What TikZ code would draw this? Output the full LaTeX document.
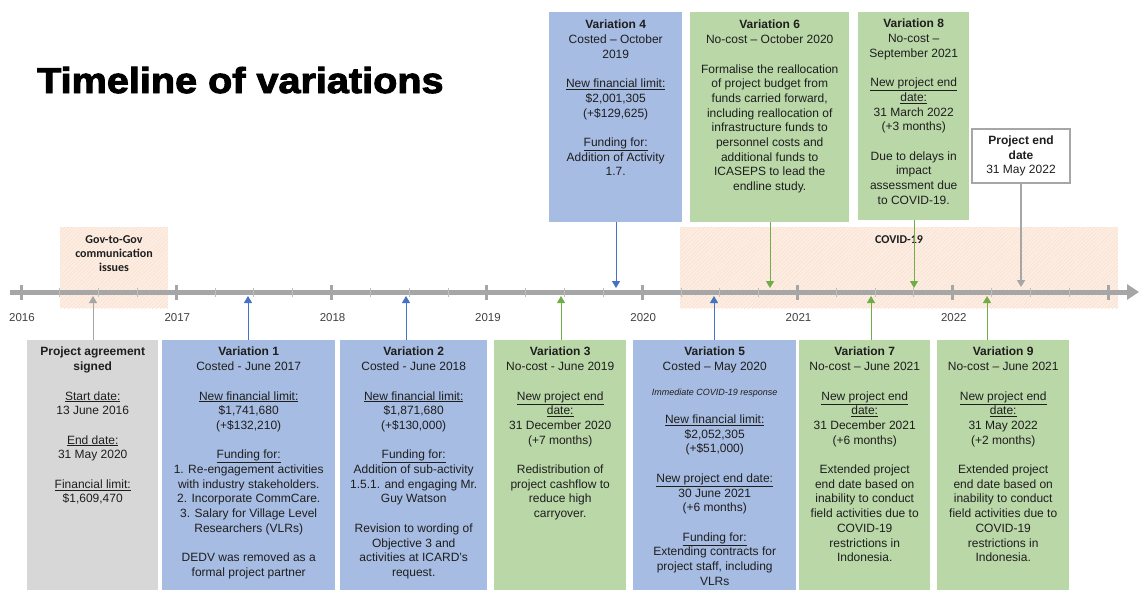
\documentclass[tikz,border=0pt]{standalone}
\usepackage{fontspec}
\setmainfont{Liberation Sans}
\newfontfamily\calfont{Carlito}
\newfontfamily\titlefont[BoldFeatures={FakeBold=2.5}]{Liberation Sans}
\usetikzlibrary{arrows.meta,patterns.meta}
\definecolor{bluef}{RGB}{167,188,226}
\definecolor{greenf}{RGB}{186,215,168}
\definecolor{grayf}{RGB}{215,215,215}
\definecolor{arrblue}{RGB}{68,114,196}
\definecolor{arrgreen}{RGB}{112,173,71}
\definecolor{axisc}{RGB}{166,166,166}
\definecolor{minorc}{RGB}{190,190,190}
\definecolor{txtc}{RGB}{30,30,30}
\definecolor{yearc}{RGB}{64,64,64}
\definecolor{peach}{RGB}{253,238,228}
\definecolor{hatchc}{RGB}{250,222,205}
\tikzset{
  panel/.style={draw=none, inner sep=0pt, anchor=north west},
  boxtxt/.style={align=center, inner sep=0pt, text=txtc, anchor=north,
    font=\fontsize{12}{14.7}\selectfont},
  yearlbl/.style={inner sep=0pt, text=yearc, font=\fontsize{11.5}{13}\selectfont},
  shadelbl/.style={align=center, inner sep=0pt, text=txtc,
    font=\calfont\bfseries\fontsize{12}{14}\selectfont},
  evarrow/.style={line width=1pt, -{Triangle[length=7pt,width=8pt]}},
  tickmaj/.style={line width=3pt, draw=axisc},
  tickmin/.style={line width=1pt, draw=minorc},
  hatchfill/.style={pattern={Lines[angle=45,distance=2.6pt,line width=0.5pt]}, pattern color=hatchc},
}
\begin{document}
\begin{tikzpicture}[x=1pt,y=-1pt]
\useasboundingbox (0,0) rectangle (1139,590);

% title
\node[anchor=base west, inner sep=0pt, text=black,
  font=\titlefont\bfseries\fontsize{36}{40}\selectfont] (title) at (37,93)
  {\scalebox{1.1}[1]{Timeline of variations}};

% shaded periods
\fill[peach] (60,227) rectangle (168,308);
\fill[hatchfill] (60,227) rectangle (168,308);
\fill[peach] (680,227) rectangle (1118,308);
\fill[hatchfill] (680,227) rectangle (1118,308);
\node[shadelbl] (gov) at (114,254) {Gov-to-Gov\\communication\\issues};
\node[shadelbl] (covid) at (899,240) {COVID-19};

% axis
\coordinate (axs) at (10,292);
\coordinate (axe) at (1139,292);
\draw[line width=5pt, draw=axisc, -{Triangle[length=12pt,width=15pt]}] (axs) -- (axe);
\foreach \k in {0,...,6} {
  \foreach \q in {1,2,3} {
    \draw[tickmin] ({21+155.3*\k+38.825*\q},288) -- ++(0,9);
  }
}
\foreach \k in {0,...,7} {
  \draw[tickmaj] ({21+155.3*\k},285) -- ({21+155.3*\k},300);
}
\foreach \k/\yr in {0/2016,1/2017,2/2018,3/2019,4/2020,5/2021,6/2022} {
  \node[yearlbl] (y\yr) at ({22+155.3*\k},318) {\yr};
}

% event points on axis
\coordinate (e0) at (93,296);
\coordinate (e1) at (248,296);
\coordinate (e2) at (406,296);
\coordinate (e3) at (561,296);
\coordinate (e4) at (616,288);
\coordinate (e5) at (714,296);
\coordinate (e6) at (770,288);
\coordinate (e7) at (871,296);
\coordinate (e8) at (914,288);
\coordinate (e9) at (987,296);
\coordinate (e10) at (1021,287);

% bottom panels
\node[panel, fill=grayf, minimum width=131pt, minimum height=250pt] (p0) at (27,340) {};
\node[panel, fill=bluef, minimum width=173pt, minimum height=250pt] (p1) at (162,340) {};
\node[panel, fill=bluef, minimum width=147pt, minimum height=250pt] (p2) at (340,340) {};
\node[panel, fill=greenf, minimum width=132pt, minimum height=250pt] (p3) at (494,340) {};
\node[panel, fill=bluef, minimum width=163pt, minimum height=250pt] (p5) at (633,340) {};
\node[panel, fill=greenf, minimum width=131pt, minimum height=250pt] (p7) at (799,340) {};
\node[panel, fill=greenf, minimum width=132pt, minimum height=250pt] (p9) at (937,340) {};

% top panels
\node[panel, fill=bluef, minimum width=133pt, minimum height=210pt] (p4) at (549,12) {};
\node[panel, fill=greenf, minimum width=159pt, minimum height=210pt] (p6) at (690,12) {};
\node[panel, fill=greenf, minimum width=111pt, minimum height=208pt] (p8) at (858,12) {};

% project end box
\node[draw=axisc, line width=1.5pt, fill=white, minimum width=98pt, minimum height=54pt,
  inner sep=0pt, align=center, text=txtc, font=\fontsize{12}{14.5}\selectfont]
  (pend) at (1021,156) {\textbf{Project end}\\\textbf{date}\\31 May 2022};

% texts
\node[boxtxt] (t0) at ([yshift=-7pt]p0.north) {\textbf{Project agreement}\\\textbf{signed}\\[14.7pt]
\underline{Start date:}\\13 June 2016\\[14.7pt]
\underline{End date:}\\31 May 2020\\[14.7pt]
\underline{Financial limit:}\\\$1,609,470};

\node[boxtxt] (t1) at ([yshift=-7pt]p1.north) {\textbf{Variation 1}\\Costed - June 2017\\[14.7pt]
\underline{New financial limit:}\\\$1,741,680\\(+\$132,210)\\[14.7pt]
\underline{Funding for:}\\1. Re-engagement activities\\with industry stakeholders.\\2. Incorporate CommCare.\\3. Salary for Village Level\\Researchers (VLRs)\\[14.7pt]
DEDV was removed as a\\formal project partner};

\node[boxtxt] (t2) at ([yshift=-7pt]p2.north) {\textbf{Variation 2}\\Costed - June 2018\\[14.7pt]
\underline{New financial limit:}\\\$1,871,680\\(+\$130,000)\\[14.7pt]
\underline{Funding for:}\\Addition of sub-activity\\1.5.1. and engaging Mr.\\Guy Watson\\[14.7pt]
Revision to wording of\\Objective 3 and\\activities at ICARD's\\request.};

\node[boxtxt] (t3) at ([yshift=-7pt]p3.north) {\textbf{Variation 3}\\No-cost - June 2019\\[14.7pt]
\underline{New project end}\\\underline{date:}\\31 December 2020\\(+7 months)\\[14.7pt]
Redistribution of\\project cashflow to\\reduce high\\carryover.};

\node[boxtxt] (t5) at ([yshift=-7pt]p5.north) {\textbf{Variation 5}\\Costed -- May 2020\\[10pt]
{\fontsize{9}{14.7}\selectfont\itshape Immediate COVID-19 response}\\[13.5pt]
\underline{New financial limit:}\\\$2,052,305\\(+\$51,000)\\[14.7pt]
\underline{New project end date:}\\30 June 2021\\(+6 months)\\[14.7pt]
\underline{Funding for:}\\Extending contracts for\\project staff, including\\VLRs};

\node[boxtxt] (t7) at ([yshift=-7pt]p7.north) {\textbf{Variation 7}\\No-cost -- June 2021\\[14.7pt]
\underline{New project end}\\\underline{date:}\\31 December 2021\\(+6 months)\\[14.7pt]
Extended project\\end date based on\\inability to conduct\\field activities due to\\COVID-19\\restrictions in\\Indonesia.};

\node[boxtxt] (t9) at ([yshift=-7pt]p9.north) {\textbf{Variation 9}\\No-cost -- June 2021\\[14.7pt]
\underline{New project end}\\\underline{date:}\\31 May 2022\\(+2 months)\\[14.7pt]
Extended project\\end date based on\\inability to conduct\\field activities due to\\COVID-19\\restrictions in\\Indonesia.};

\node[boxtxt] (t4) at ([yshift=-8pt]p4.north) {\textbf{Variation 4}\\Costed -- October\\2019\\[14.7pt]
\underline{New financial limit:}\\\$2,001,305\\(+\$129,625)\\[14.7pt]
\underline{Funding for:}\\Addition of Activity\\1.7.};

\node[boxtxt] (t6) at ([yshift=-8pt]p6.north) {\textbf{Variation 6}\\No-cost -- October 2020\\[14.7pt]
Formalise the reallocation\\of project budget from\\funds carried forward,\\including reallocation of\\infrastructure funds to\\personnel costs and\\additional funds to\\ICASEPS to lead the\\endline study.};

\node[boxtxt] (t8) at ([yshift=-7pt]p8.north) {\textbf{Variation 8}\\No-cost --\\September 2021\\[14.7pt]
\underline{New project end}\\\underline{date:}\\31 March 2022\\(+3 months)\\[14.7pt]
Due to delays in\\impact\\assessment due\\to COVID-19.};

% connectors
\draw[evarrow, draw=axisc, fill=axisc] (p0.north -| e0) -- (e0);
\draw[evarrow, draw=arrblue, fill=arrblue] (p1.north -| e1) -- (e1);
\draw[evarrow, draw=arrblue, fill=arrblue] (p2.north -| e2) -- (e2);
\draw[evarrow, draw=arrgreen, fill=arrgreen] (p3.north -| e3) -- (e3);
\draw[evarrow, draw=arrblue, fill=arrblue] (p4.south -| e4) -- (e4);
\draw[evarrow, draw=arrblue, fill=arrblue] (p5.north -| e5) -- (e5);
\draw[evarrow, draw=arrgreen, fill=arrgreen] (p6.south -| e6) -- (e6);
\draw[evarrow, draw=arrgreen, fill=arrgreen] (p7.north -| e7) -- (e7);
\draw[evarrow, draw=arrgreen, fill=arrgreen] (p8.south -| e8) -- (e8);
\draw[evarrow, draw=arrgreen, fill=arrgreen] (p9.north -| e9) -- (e9);
\draw[evarrow, draw=axisc, fill=axisc, line width=1.5pt] (pend.south -| e10) -- (e10);
\end{tikzpicture}
\end{document}
